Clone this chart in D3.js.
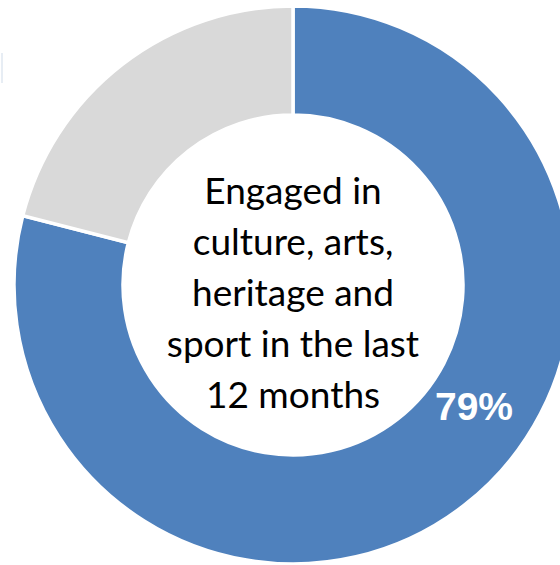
<!DOCTYPE html>
<html>
<head>
<meta charset="utf-8">
<script src="https://cdn.jsdelivr.net/npm/d3@7"></script>
<style>
  html, body { margin: 0; padding: 0; background: #ffffff; }
  svg { display: block; }
</style>
</head>
<body>
<svg id="chart" width="560" height="565"></svg>
<script>
// Share of people engaged vs. not engaged
const categories = ["Engaged", "Not engaged"];
const values = [79, 21];
const colors = ["#4f81bd", "#d9d9d9"];
const centreLines = ["Engaged in", "culture, arts,", "heritage and", "sport in the last", "12 months"];
const valueLabel = "79%";

const svg = d3.select("#chart");
const cx = 293, cy = 285;
const outerR = 279, innerR = 170;

const pie = d3.pie().sort(null).value(d => d.value);
const arcs = pie(categories.map((c, i) => ({ name: c, value: values[i], color: colors[i] })));
const arc = d3.arc().innerRadius(innerR).outerRadius(outerR);

const g = svg.append("g").attr("transform", `translate(${cx},${cy})`);

g.selectAll("path.slice")
  .data(arcs)
  .join("path")
  .attr("class", "slice")
  .attr("d", arc)
  .attr("fill", d => d.data.color)
  .attr("stroke", "#ffffff")
  .attr("stroke-width", 3.5)
  .attr("stroke-linejoin", "miter");

// centre caption
const lineGap = 51;
const firstBaseline = 204 - cy;
g.append("text")
  .attr("text-anchor", "middle")
  .attr("font-family", "Lato, 'Open Sans', sans-serif")
  .attr("font-size", 37)
  .attr("fill", "#000000")
  .selectAll("tspan")
  .data(centreLines)
  .join("tspan")
  .attr("x", 0)
  .attr("y", (d, i) => firstBaseline + i * lineGap)
  .text(d => d);

// value label on the engaged slice
const labelArc = d3.arc().innerRadius(innerR).outerRadius(outerR);
const a0 = arcs[0];
g.append("text")
  .attr("x", 474 - cx)
  .attr("y", 420 - cy)
  .attr("text-anchor", "middle")
  .attr("font-family", "'Liberation Sans', Arial, sans-serif")
  .attr("font-weight", "bold")
  .attr("font-size", 39)
  .attr("fill", "#ffffff")
  .text(valueLabel);

// faint edge mark at the far left
svg.append("line")
  .attr("x1", 2).attr("x2", 2)
  .attr("y1", 53).attr("y2", 83)
  .attr("stroke", "#dfe7f1")
  .attr("stroke-width", 1.5);
</script>
</body>
</html>
